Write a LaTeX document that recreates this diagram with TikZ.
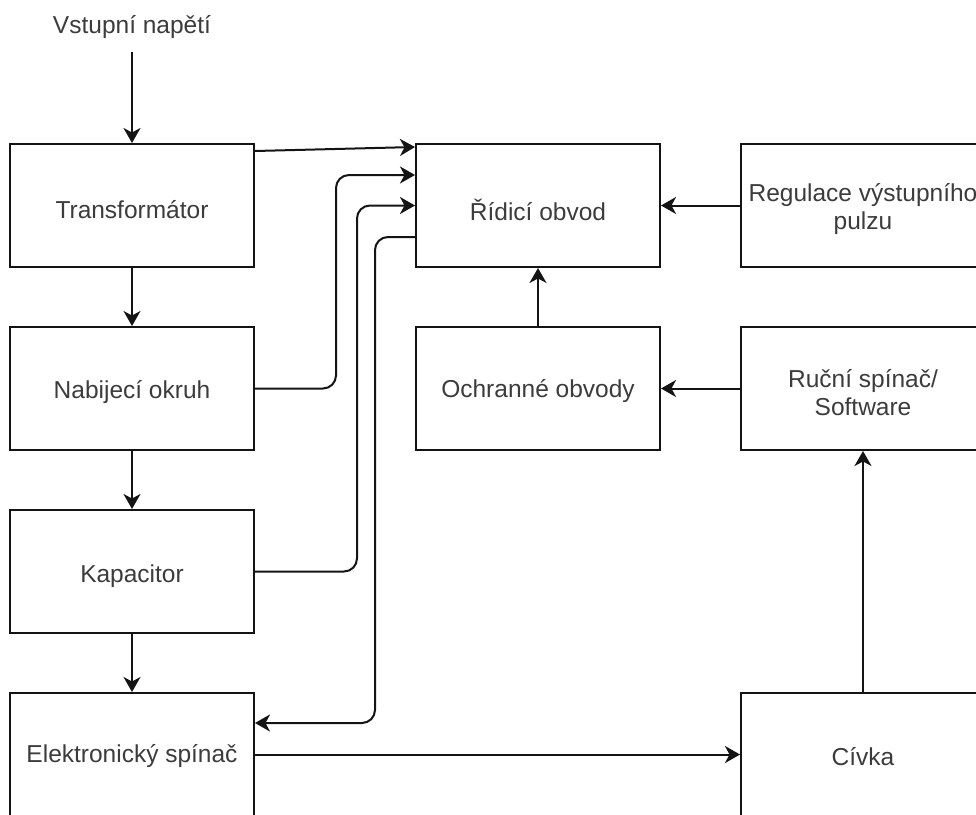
\documentclass[tikz,border=0pt]{standalone}
\usepackage{fontspec}
\setmainfont{Liberation Sans}
\usetikzlibrary{arrows.meta,calc}
\definecolor{txt}{RGB}{60,60,60}
\definecolor{ln}{RGB}{20,20,20}
\tikzset{
  blk/.style={draw=ln, line width=2pt, minimum width=244pt, minimum height=123pt, inner sep=0pt},
  lbl/.style={text=txt, font=\fontsize{24.5}{28}\selectfont, inner sep=0pt, align=center},
  arr/.style={draw=ln, line width=2pt, -{Stealth[length=15pt,width=17pt,inset=4.5pt]}},
}
\begin{document}
\begin{tikzpicture}[x=1pt,y=-1pt]
\useasboundingbox[fill=white] (0,0) rectangle (976,814);
% nodes
\node[lbl] (vn) at (132,27) {Vstupní napětí};
\coordinate (vin) at (132,52);
\node[blk] (t) at (132,205.5) {};
\node[blk] (n) at (132,388.5) {};
\node[blk] (k) at (132,571.5) {};
\node[blk] (e) at (132,754.5) {};
\node[blk] (r) at (538,205.5) {};
\node[blk] (o) at (538,388.5) {};
\node[blk] (re) at (863,205.5) {};
\node[blk] (ru) at (863,388.5) {};
\node[blk] (c) at (863,754.5) {};
% texts
\node[lbl] (tl) at ([yshift=-4pt]t.center) {Transformátor};
\node[lbl] (nl) at ([yshift=-4pt]n.center) {Nabijecí okruh};
\node[lbl] (kl) at ([yshift=-5pt]k.center) {Kapacitor};
\node[lbl] (el) at ([yshift=-2pt]e.center) {Elektronický spínač};
\node[lbl] (rl) at ([yshift=-4pt]r.center) {Řídicí obvod};
\node[lbl] (ol) at ([yshift=-3pt]o.center) {Ochranné obvody};
\node[lbl] (rel) at ([yshift=-4pt]re.center) {Regulace výstupního\\pulzu};
\node[lbl] (rul) at ([yshift=-4pt]ru.center) {Ruční spínač/\\Software};
\node[lbl] (cl) at ([yshift=-2pt]c.center) {Cívka};
% connectors
\draw[arr] (vin) -- (t.north);
\draw[arr] (t.south) -- (n.north);
\draw[arr] (n.south) -- (k.north);
\draw[arr] (k.south) -- (e.north);
\draw[arr] ([yshift=-8pt]t.north east) -- ([yshift=-4pt]r.north west);
\draw[arr, rounded corners=13pt] (n.east) -- ++(81,0) |- ([yshift=30.5pt]r.west);
\draw[arr, rounded corners=13pt] (k.east) -- ++(102,0) |- (r.west);
\draw[arr, rounded corners=13pt] ([yshift=-31.5pt]r.west) -- ++(-40,0) |- ([yshift=31.5pt]e.east);
\draw[arr] (e.east) -- (c.west);
\draw[arr] (c.north) -- (ru.south);
\draw[arr] (ru.west) -- (o.east);
\draw[arr] (o.north) -- (r.south);
\draw[arr] (re.west) -- (r.east);
\end{tikzpicture}
\end{document}
